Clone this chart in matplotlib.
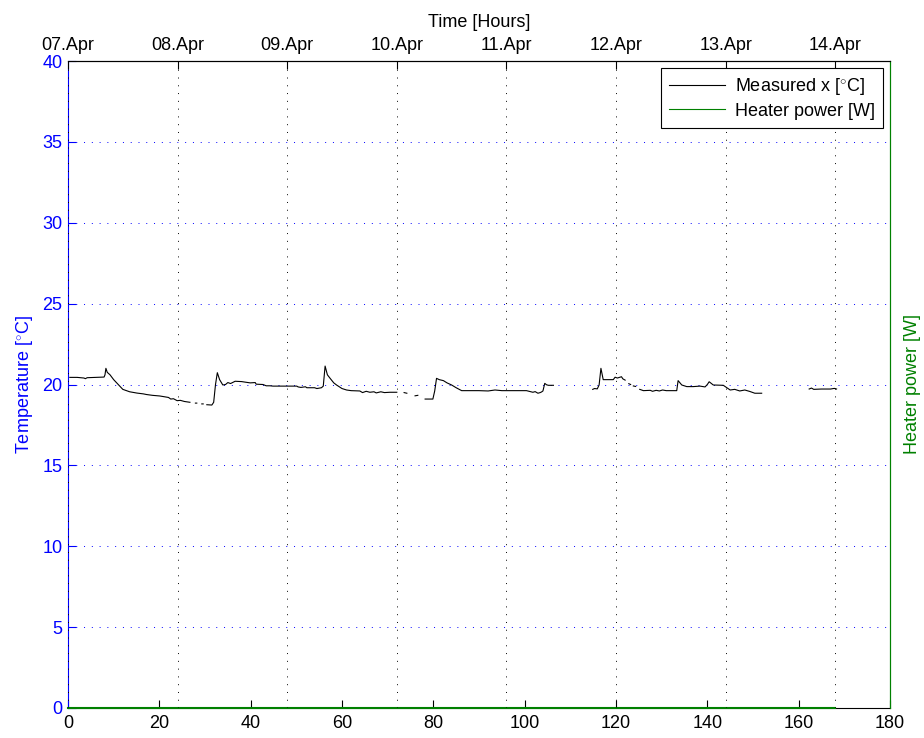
import numpy as np
import matplotlib
matplotlib.use('Agg')
import matplotlib.pyplot as plt

plt.rcParams['font.family'] = ['Liberation Sans', 'DejaVu Sans']
plt.rcParams['mathtext.fontset'] = 'custom'
plt.rcParams['mathtext.rm'] = 'Liberation Sans'
plt.rcParams['font.size'] = 13

nan = np.nan

# ----- logged data (hours since 07.Apr 00:00) -----
time_h = [0.4, 2.0, 3.5, 3.8, 4.2, 6.0, 7.9, 8.1, 8.3, 8.6, 9.2, 10.0, 11.0, 12.0, 13.5, 15.1,
          16.5, 17.2, 18.5, 20.1, 21.0, 22.0, 22.5, 23.1, 23.9, 24.6, 25.5, 26.7, nan,
          27.9, 28.2, nan, 29.3, 29.6, nan,
          30.4, 31.5, 31.9, 32.3, 32.7, 33.2, 33.9, 34.5, 35.0, 35.6, 36.6, 38.0, 39.9, 41.0,
          41.2, 42.7, 43.4, 44.2, 44.9, 47.0, 48.6, 50.1, 50.4, 51.0, 52.0, 52.3, 54.0, 54.5,
          55.5, 55.9, 56.3, 56.8, 57.4, 58.2, 58.8, 60.0, 61.0, 62.0, 63.9, 64.5, 65.3, 66.1,
          67.0, 67.5, 68.5, 69.3, 70.5, 72.0, nan,
          73.6, 74.2, nan, 76.0, 76.6, nan,
          78.2, 79.9, 80.3, 80.7, 81.3, 82.2, 83.0, 84.0, 85.0, 86.2, 88.0, 90.0, 92.0, 93.5,
          95.0, 98.0, 100.4, 101.0, 101.8, 102.3, 102.9, 103.4, 103.7, 104.0, 104.4, 104.8,
          105.2, 106.3, nan,
          114.9, 115.3, 115.9, 116.3, 116.7, 117.2, 118.5, 119.4, 119.8, 120.3, 121.2, 121.5,
          122.0, nan, 122.8, 123.2, nan, 123.8, 124.3, nan,
          125.2, 126.0, 127.5, 128.0, 128.8, 129.5, 130.2, 131.0, 133.3, 133.6, 134.4, 135.5,
          136.9, 138.4, 139.5, 140.0, 140.4, 141.3, 143.5, 145.0, 146.0, 147.1, 148.2, 149.3,
          150.4, 151.9, nan,
          162.3, 162.8, 163.3, 165.0, 167.0, 167.8, 168.3]
temp_c = [20.44, 20.44, 20.40, 20.36, 20.42, 20.44, 20.46, 20.6, 21.0, 20.75, 20.6, 20.3, 20.0,
          19.7, 19.55, 19.47, 19.42, 19.38, 19.33, 19.29, 19.25, 19.2, 19.1, 19.12, 19.0, 19.02,
          18.95, 18.9, nan,
          18.85, 18.85, nan, 18.8, 18.8, nan,
          18.75, 18.73, 18.9, 20.0, 20.73, 20.3, 19.97, 20.0, 20.12, 20.06, 20.2, 20.18, 20.1,
          20.12, 20.02, 20.0, 19.92, 19.92, 19.9, 19.9, 19.9, 19.9, 19.85, 19.82, 19.86, 19.8,
          19.8, 19.75, 19.8, 19.9, 21.14, 20.6, 20.38, 20.1, 19.97, 19.75, 19.66, 19.62, 19.6,
          19.5, 19.58, 19.52, 19.55, 19.48, 19.55, 19.5, 19.52, 19.52, nan,
          19.5, 19.46, nan, 19.3, 19.33, nan,
          19.1, 19.1, 19.6, 20.38, 20.3, 20.24, 20.1, 19.97, 19.8, 19.62, 19.62, 19.62, 19.6,
          19.66, 19.62, 19.62, 19.62, 19.58, 19.52, 19.56, 19.46, 19.5, 19.54, 19.6, 20.07,
          19.98, 19.95, 19.95, nan,
          19.7, 19.75, 19.73, 19.97, 21.0, 20.3, 20.3, 20.3, 20.45, 20.4, 20.48, 20.35, 20.27,
          nan, 20.05, 20.0, nan, 19.91, 19.88, nan,
          19.7, 19.62, 19.64, 19.58, 19.64, 19.6, 19.66, 19.62, 19.62, 20.24, 19.97, 19.87,
          19.87, 19.9, 19.85, 20.0, 20.17, 19.97, 19.95, 19.66, 19.7, 19.6, 19.66, 19.57,
          19.46, 19.46, nan,
          19.72, 19.78, 19.7, 19.72, 19.72, 19.76, 19.72]

heater_time_h = [0, 168]
heater_power_w = [0, 0]

day_ticks_h = [0, 24, 48, 72, 96, 120, 144, 168]
day_labels = ['07.Apr', '08.Apr', '09.Apr', '10.Apr', '11.Apr', '12.Apr', '13.Apr', '14.Apr']

blue = (0, 0, 1)
green = (0, 0.5, 0)
dots = (0, (1, 7))

fig = plt.figure(figsize=(9.24, 7.38), dpi=100)
ax = fig.add_axes([68 / 924, 30 / 738, 822 / 924, 647 / 738])

ax.plot(time_h, temp_c, color='k', lw=0.8, label='Measured x [$^{\\circ}$C]')
ax.set_xlim(0, 180)
ax.set_ylim(0, 40)
ax.set_xticks(np.arange(0, 181, 20))
ax.set_yticks(np.arange(0, 41, 5))
ax.tick_params(direction='in', length=6, right=True, pad=5)
ax.tick_params(axis='y', colors=blue, pad=4)
ax.tick_params(axis='x', colors='k')
ax.yaxis.grid(True, color=blue, ls=dots, lw=0.7)
ax.set_ylabel('Temperature [$^{\\circ}$C]', color=blue, labelpad=5)
ax.spines['left'].set_color(blue)
ax.spines['right'].set_color(green)

# heater power on its own right-hand axis
ax2 = ax.twinx()
ax2.plot(heater_time_h, heater_power_w, color=green, lw=1.5, clip_on=False,
         label='Heater power [W]')
ax2.set_ylim(0, 1)
ax2.set_yticks([])
ax2.set_ylabel('Heater power [W]', color=green, labelpad=10)
for side in ('left', 'top', 'bottom'):
    ax2.spines[side].set_visible(False)
ax2.spines['right'].set_color(green)

# calendar days along the top
ax3 = ax.twiny()
ax3.set_xlim(0, 180)
ax3.set_xticks(day_ticks_h)
ax3.set_xticklabels(day_labels)
ax3.tick_params(direction='in', length=6, pad=5)
ax3.xaxis.grid(True, color='k', ls=dots, lw=0.7)
ax3.set_xlabel('Time [Hours]', labelpad=7)
for side in ('left', 'right', 'bottom'):
    ax3.spines[side].set_visible(False)

handles = ax.get_lines()[:1] + ax2.get_lines()[:1]
leg = ax3.legend(handles, [h.get_label() for h in handles], loc='upper right',
                 fancybox=False, framealpha=1, edgecolor='k', handlelength=3.1,
                 borderaxespad=0.4, labelspacing=0.3, handletextpad=0.55,
                 borderpad=0.45)
leg.get_frame().set_linewidth(0.8)
for line in leg.get_lines():
    line.set_linewidth(0.8)

fig.savefig('out.png', dpi=100)
